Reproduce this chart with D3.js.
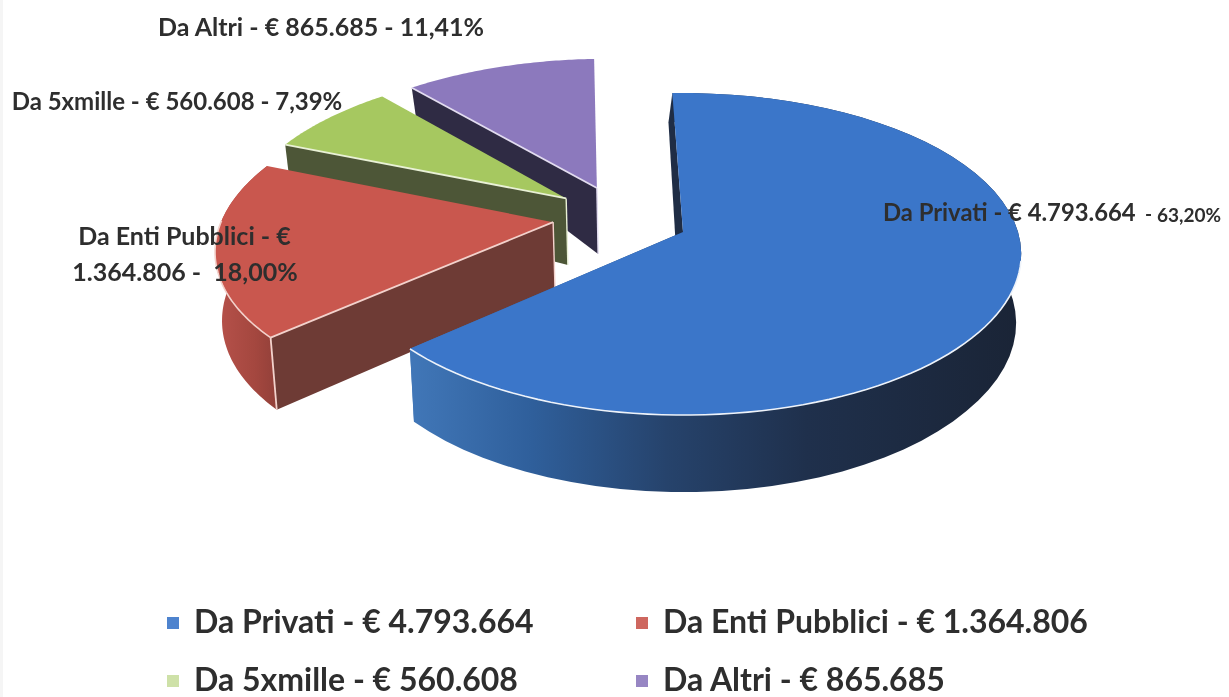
<!DOCTYPE html>
<html><head><meta charset="utf-8">
<script src="https://cdn.jsdelivr.net/npm/d3@7/dist/d3.min.js"></script>
<style>html,body{margin:0;padding:0;background:#fff}svg{display:block;filter:blur(.45px)}text{font-family:Lato,Carlito,sans-serif;font-weight:700;fill:#2e2e2e;white-space:pre}</style>
</head><body><script>
const categories = ["Da Privati","Da Enti Pubblici","Da 5xmille","Da Altri"];
const values = [4793664,1364806,560608,865685];
const amountLabels = ["€ 4.793.664","€ 1.364.806","€ 560.608","€ 865.685"];
const percentLabels = ["63,20%","18,00%","7,39%","11,41%"];
const topColors = ["#3b76c9","#c9574e","#a6c860","#8c79bd"];
const arcColors = ["url(#sideBlue)","url(#sideRed)","#4d5637","#2f2b44"];
const flatColors = ["#1f2d45","#6e3b35","#4d5637","#2f2b44"];
const rimColors = ["#eef3fa","#f3d2cc","#e9f1d6","#e2dcf0"];
const explodeU = [.009,-.382,-.35,-.258];
const explodeV = [0,-.063,-.219,-.29];
const startTweak = [-2,0,0,0];
const endTweak = [.3,0,0,-2.5];

const W=1229,H=697, cx=680, cy=232, A=335, B=158, P=.137;
const rad=Math.PI/180;
const svg=d3.select("body").append("svg").attr("width",W).attr("height",H);
svg.append("rect").attr("x",0).attr("y",0).attr("width",3).attr("height",H).attr("fill","#f5f5f5");
const defs=svg.append("defs");
function grad(id,x1,x2,stops){
  const g=defs.append("linearGradient").attr("id",id).attr("gradientUnits","userSpaceOnUse")
    .attr("x1",x1).attr("x2",x2).attr("y1",0).attr("y2",0);
  stops.forEach(s=>g.append("stop").attr("offset",s[0]).attr("stop-color",s[1]));
}
grad("sideBlue",410,1020,[[0,"#4177b8"],[.2,"#2f5f9b"],[.42,"#26436c"],[.65,"#1f304c"],[1,"#1a2436"]]);
grad("sideRed",218,280,[[0,"#b6514a"],[.6,"#a4473f"],[1,"#8f3f38"]]);

const arcs=d3.pie().sort(null).value(d=>d).startAngle(0).endAngle(2*Math.PI)(values)
  .map((a,i)=>({startAngle:a.startAngle+startTweak[i]*rad,endAngle:a.endAngle+endTweak[i]*rad}));

const depth=d3.scaleLinear().domain([-1.3,-.95,-.3,.6,1]).range([24,30,66,72,77]).clamp(true);
function project(u,v){
  const w=1-P*v;
  return [cx+u*A/w, cy+v*B/w];
}
function worldAt(i,r,t){ return [explodeU[i]+r*Math.sin(t), explodeV[i]-r*Math.cos(t)]; }
function topPt(i,r,t){ const [u,v]=worldAt(i,r,t); return project(u,v); }
function botPt(i,r,t){
  const [u,v]=worldAt(i,r,t), p=project(u,v);
  return [cx+(p[0]-cx)*.985, p[1]+depth(v)];
}
const line=d3.line();
function steps(a,b){ return d3.range(0,61).map(k=>a+(b-a)*k/60); }

[3,2,1,0].forEach(i=>{
  const a=arcs[i], ts=steps(a.startAngle,a.endAngle), g=svg.append("g");
  if(i<2){
    const outer=ts.map(t=>topPt(i,1,t)).concat(ts.slice().reverse().map(t=>botPt(i,1,t)));
    g.append("path").attr("d",line(outer)+"Z").attr("fill",arcColors[i]);
  }
  (i===0?[a.endAngle,a.startAngle]:[a.startAngle]).forEach(t=>{
    let q=[topPt(i,0,t),topPt(i,1,t),botPt(i,1,t),botPt(i,0,t)];
    if(i===0 && t===a.startAngle){ q[2]=[q[2][0]-4,q[2][1]]; q[3]=[q[3][0]-4,q[3][1]]; }
    const fill=(i===0 && t===a.endAngle)?"url(#sideBlue)":flatColors[i];
    g.append("path").attr("d",line(q)+"Z").attr("fill",fill);
  });
  const face=[topPt(i,0,a.startAngle)].concat(ts.map(t=>topPt(i,1,t)));
  g.append("path").attr("d",line(face)+"Z").attr("fill",topColors[i]);
  const rim=d3.line();
  const stroke=(pts,w)=>g.append("path").attr("d",rim(pts)).attr("fill","none")
    .attr("stroke",rimColors[i]).attr("stroke-width",w);
  if(i===0){
    stroke(steps(1.75,a.endAngle).map(t=>topPt(i,1,t)),1.6);
  } else {
    const t=a.startAngle;
    stroke([topPt(i,0,t),topPt(i,1,t)],1.8);
    stroke([topPt(i,0,t),botPt(i,0,t)],1.4);
  }
  if(i===1){
    const a0=a.startAngle;
    stroke(steps(a0,a0+.75).map(t=>topPt(i,1,t)),1.6);
    stroke([topPt(i,1,a0),botPt(i,1,a0)],1.8);
  }
});

const lab=(x,y,txt,size,anchor)=>svg.append("text").attr("x",x).attr("y",y).attr("font-size",size)
  .attr("text-anchor",anchor||"start").text(txt);
lab(321,36,`${categories[3]} - ${amountLabels[3]} - ${percentLabels[3]}`,25,"middle");
lab(177,110,`${categories[2]} - ${amountLabels[2]} - ${percentLabels[2]}`,24,"middle");
lab(184.5,245,`${categories[1]} - €`,25,"middle");
lab(185,281,`${amountLabels[1].slice(2)} -  ${percentLabels[1]}`,25,"middle");
lab(883,221,`${categories[0]} - ${amountLabels[0]}`,23.8);
lab(1145,221,"-",19);
lab(1157,222,percentLabels[0],19);

const legendX=[194,663], legendY=[633,691];
[[0,0,0],[1,1,0],[2,0,1],[3,1,1]].forEach(([i,c,r])=>{
  svg.append("rect").attr("x",legendX[c]-27).attr("y",legendY[r]-16).attr("width",12).attr("height",12)
    .attr("fill",topColors[i]).attr("opacity",i===2?.55:.9);
  svg.append("text").attr("x",legendX[c]).attr("y",legendY[r]).attr("font-size",32)
    .text(`${categories[i]} - ${amountLabels[i]}`);
});
</script></body></html>
